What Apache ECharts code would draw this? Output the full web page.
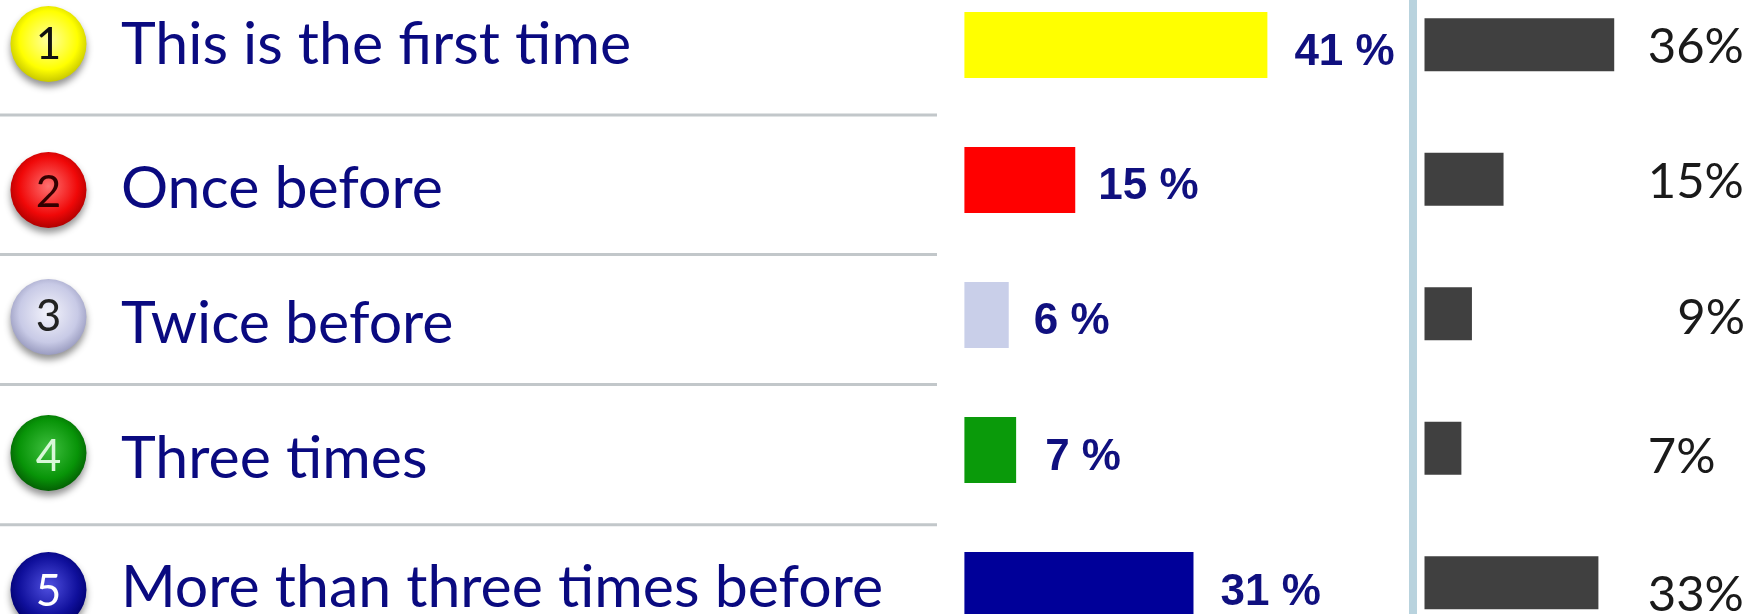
<!DOCTYPE html>
<html>
<head>
<meta charset="utf-8">
<style>html,body{margin:0;padding:0;background:#fff}#c{width:1756px;height:614px}</style>
<script src="https://cdn.jsdelivr.net/npm/echarts@6/dist/echarts.min.js"></script>
</head>
<body>
<div id="c"></div>
<script>
const categories = ['This is the first time','Once before','Twice before','Three times','More than three times before'];
const badgeNumbers = ['1','2','3','4','5'];
const thisYear = [41,15,6,7,31];
const lastYear = [36,15,9,7,33];

// styling and layout only
const barColors = ['#ffff00','#ff0000','#c9cfe9','#0a9a0a','#000099'];
const badgeStops = [['#ffffa0','#ffff00','#c8c800'],['#ff7070','#f00808','#b00000'],['#f4f4fc','#c8cae6','#9a9cc0'],['#40c040','#089408','#046004'],['#5050e0','#10109c','#000070']];
const digitColors = ['#111','#300','#222','#d8f8d8','#fff'];
const nameNudge = [0,9,9,9,3], badgeNudge = [-1,10,2,3,5], digitNudge = [1,3,0,4,2], rightNudge = [3,3,5,9,13];
const leftLabelNudge = [[0,8],[-4,7],[-2,7],[2,8],[0,8]];
const rightLabelAnchor = [60.6,60.6,60.8,55.2,60.6];
const rowIdx = categories.map((_, i) => i);
const navy = '#0a0a80';

const band = (gridIndex, data) => ({type:'category', gridIndex, inverse:true, data, show:false});
const scale = gridIndex => ({type:'value', gridIndex, min:0, max:100, show:false});

const option = {
  animation:false,
  backgroundColor:'#fff',
  grid:[
    {left:0, width:960, top:-22.5, height:675, outerBoundsMode:'none'},
    {left:964.4, width:739, top:-22.5, height:675, outerBoundsMode:'none'},
    {left:1424.5, width:527, top:-22.6, height:672.5, outerBoundsMode:'none'}
  ],
  xAxis:[scale(0),scale(1),scale(2)],
  yAxis:[band(0,categories),band(1,categories),band(2,categories)],
  series:[
    {type:'scatter', name:'badges', xAxisIndex:0, yAxisIndex:0, z:3, clip:false, itemStyle:{opacity:1},
     data:rowIdx.map(i => ({
       value:[5.05,i], symbolSize:76, symbolOffset:[0,badgeNudge[i]],
       itemStyle:{
         opacity:1,
         color:{type:'radial',x:0.5,y:0.45,r:0.55,colorStops:[{offset:0,color:badgeStops[i][0]},{offset:0.7,color:badgeStops[i][1]},{offset:1,color:badgeStops[i][2]}]},
         shadowColor:'rgba(60,60,60,0.55)',shadowBlur:7,shadowOffsetY:5
       },
       label:{show:true,position:'inside',formatter:badgeNumbers[i],color:digitColors[i],fontFamily:'Lato',fontSize:44,offset:[0,digitNudge[i]]}
     }))},
    {type:'scatter', name:'names', xAxisIndex:0, yAxisIndex:0, symbolSize:0, clip:false, itemStyle:{opacity:1},
     data:rowIdx.map(i => ({
       value:[12.6,i],
       label:{show:true,position:'right',distance:0,formatter:categories[i],color:navy,fontFamily:'Lato',fontSize:59,offset:[0,nameNudge[i]]}
     }))},
    {type:'bar', name:'left', xAxisIndex:1, yAxisIndex:1, barWidth:66,
     data:thisYear.map((v,i) => ({value:v,itemStyle:{color:barColors[i]},label:{offset:leftLabelNudge[i]}})),
     label:{show:true,position:'right',distance:27,formatter:p => p.value+' %',color:'#10107f',fontFamily:'Liberation Sans',fontWeight:'bold',fontSize:44}},
    {type:'bar', name:'right', xAxisIndex:2, yAxisIndex:2, barWidth:53,
     data:lastYear, itemStyle:{color:'#404040'}},
    {type:'scatter', name:'rightLabels', xAxisIndex:2, yAxisIndex:2, symbolSize:0, clip:false, itemStyle:{opacity:1},
     data:rowIdx.map(i => ({
       value:[rightLabelAnchor[i],i],
       label:{show:true,position:'left',distance:0,formatter:lastYear[i]+'%',color:'#1a1a1a',fontFamily:'Lato',fontSize:49,offset:[0,rightNudge[i]]}
     }))}
  ],
  graphic:[
    ...[115,254.5,384.5,524.7].map(y => ({type:'line',shape:{x1:0,y1:y,x2:937,y2:y},style:{stroke:'#c2c7ca',lineWidth:3},silent:true})),
    {type:'rect',shape:{x:1409,y:0,width:8,height:614},style:{fill:'#b9d3de'},silent:true}
  ]
};
echarts.init(document.getElementById('c'),null,{renderer:'canvas'}).setOption(option);
</script>
</body>
</html>
